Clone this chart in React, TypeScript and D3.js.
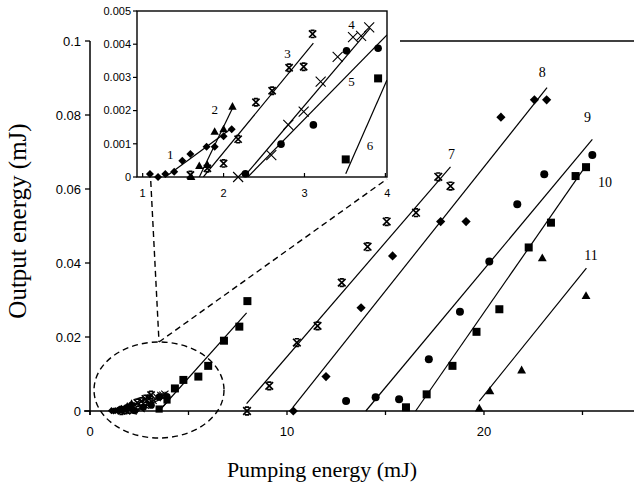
import React from "react";
import * as d3 from "d3";

// ---- Main chart tick values ----
const mainXTicks = [0, 5, 10, 15, 20, 25];
const mainXLabels = [0, 10, 20];
const mainYTicks = [0, 0.02, 0.04, 0.06, 0.08, 0.1];
const insetXTicks = [1, 2, 3, 4];
const insetYTicks = [0, 0.001, 0.002, 0.003, 0.004, 0.005];

// ---- Inset series (pumping mJ, output mJ) ----
const s1Diamonds = [[1.09, 0.00009], [1.19, 0], [1.28, 0.00009], [1.39, 0.00016], [1.49, 0.00049], [1.59, 0.00069], [1.79, 0.00091], [1.89, 0.00091], [2.0, 0.00123], [2.1, 0.00144]];
const s2Triangles = [[1.6, 0], [1.7, 0.00033], [1.8, 0.00036], [1.89, 0.00136], [2.0, 0.00144], [2.11, 0.00212]];
const s3Stars = [[1.59, 0.00006], [1.8, 0.00026], [2.0, 0.00041], [2.18, 0.00114], [2.4, 0.00225], [2.6, 0.0026], [2.81, 0.00329], [2.99, 0.00332], [3.1, 0.00431]];
const s4Crosses = [[2.18, 0], [2.59, 0.00066], [2.8, 0.00157], [2.99, 0.00197], [3.2, 0.00287], [3.41, 0.00362], [3.6, 0.00421], [3.7, 0.00425], [3.8, 0.00451]];
const s5Circles = [[2.27, 0.0001], [2.71, 0.00099], [3.11, 0.00157], [3.52, 0.0038], [3.91, 0.00388]];
const s6Squares = [[3.51, 0.00053], [3.91, 0.00297]];
const s6SquaresMain = [[4.31, 0.0061], [4.74, 0.0084], [5.5, 0.0093], [6.0, 0.0122], [6.8, 0.019], [7.58, 0.0228], [7.99, 0.0297]];

// ---- Main series ----
const s7Stars = [[7.97, 0], [9.1, 0.0068], [10.5, 0.0185], [11.55, 0.023], [12.78, 0.0347], [14.09, 0.0444], [15.06, 0.0512], [16.55, 0.0536], [17.68, 0.0633], [18.3, 0.0608]];
const s8Diamonds = [[10.32, 0], [11.98, 0.0093], [13.76, 0.0279], [15.36, 0.0419], [17.8, 0.0512], [19.09, 0.0512], [20.86, 0.0794], [22.56, 0.0841], [23.18, 0.0841]];
const s9Circles = [[13.0, 0.0027], [14.5, 0.0037], [15.69, 0.0032], [17.2, 0.014], [18.78, 0.0268], [20.27, 0.0404], [21.69, 0.0559], [23.06, 0.064], [25.5, 0.0692]];
const s10Squares = [[16.04, 0.001], [17.09, 0.0045], [18.4, 0.0122], [19.62, 0.0214], [20.78, 0.0275], [22.27, 0.0442], [23.4, 0.0509], [24.65, 0.0635], [25.18, 0.0659]];
const s11Triangles = [[19.76, 0.0007], [20.3, 0.0054], [21.91, 0.011], [22.96, 0.0413], [25.18, 0.0311]];

// ---- Fit lines [x0, y0, x1, y1] ----
const insetFits = [
  [1.28, 0, 2.1, 0.00147],
  [1.7, 0, 2.11, 0.00207],
  [1.75, 0, 3.11, 0.00403],
  [2.25, 0, 3.81, 0.00448],
  [2.3, 0, 4.02, 0.00428],
  [3.51, 0.0001, 4.02, 0.00292],
];
const mainFits = [
  [3.5, 0, 7.95, 0.0265],
  [7.95, 0.002, 18.3, 0.066],
  [10.3, 0.001, 23.2, 0.0874],
  [14.0, 0, 25.5, 0.0734],
  [16.53, 0, 25.2, 0.0665],
  [19.76, 0.0027, 25.2, 0.0386],
];

// ---- Line labels ----
const insetLabelText = ["1", "2", "3", "4", "5", "6"];
const insetLabelPos = [[1.34, 0.00069], [1.89, 0.00204], [2.79, 0.00373], [3.58, 0.00458], [3.58, 0.00287], [3.81, 0.00094]];
const mainLabelText = ["7", "8", "9", "10", "11"];
const mainLabelPos = [[18.35, 0.0694], [22.96, 0.0915], [25.25, 0.0794], [26.14, 0.062], [25.43, 0.0422]];

type Pt = number[];
type Kind = "diamond" | "triangle" | "star" | "cross" | "circle" | "square";

function Marker({ kind, cx, cy, s }: { kind: Kind; cx: number; cy: number; s: number }) {
  switch (kind) {
    case "diamond":
      return <path d={`M${cx},${cy - s}L${cx + s},${cy}L${cx},${cy + s}L${cx - s},${cy}Z`} fill="#000" />;
    case "triangle": {
      const h = s * 1.8;
      return <path d={`M${cx},${cy - h * 0.6}L${cx + s},${cy + h * 0.4}L${cx - s},${cy + h * 0.4}Z`} fill="#000" />;
    }
    case "circle":
      return <circle cx={cx} cy={cy} r={s} fill="#000" />;
    case "square":
      return <rect x={cx - s} y={cy - s} width={2 * s} height={2 * s} fill="#000" />;
    case "star":
      return (
        <path
          d={`M${cx - s},${cy - s}L${cx + s},${cy + s}M${cx + s},${cy - s}L${cx - s},${cy + s}M${cx - s * 0.55},${cy - s}L${cx + s * 0.55},${cy - s}M${cx - s * 0.55},${cy + s}L${cx + s * 0.55},${cy + s}`}
          stroke="#000"
          strokeWidth={1.7}
          fill="none"
        />
      );
    case "cross":
      return <path d={`M${cx - s},${cy - s}L${cx + s},${cy + s}M${cx + s},${cy - s}L${cx - s},${cy + s}`} stroke="#000" strokeWidth={1.1} fill="none" />;
  }
  return null;
}

export default function App() {
  const W = 634;
  const H = 488;
  const x = d3.scaleLinear().domain([0, 27.6]).range([90, 633.7]);
  const y = d3.scaleLinear().domain([0, 0.1]).range([411, 41]);
  const ix = d3.scaleLinear().domain([0.93, 4.02]).range([137, 387]);
  const iy = d3.scaleLinear().domain([0, 0.005]).range([177, 11]);

  const insetSeries: [Pt[], Kind, number][] = [
    [s1Diamonds, "diamond", 4],
    [s2Triangles, "triangle", 4.2],
    [s3Stars, "star", 3.6],
    [s4Crosses, "cross", 5],
    [s5Circles, "circle", 3.8],
    [s6Squares, "square", 4],
  ];
  const mainSeries: [Pt[], Kind, number][] = [
    [s6SquaresMain, "square", 4],
    [s7Stars, "star", 3.8],
    [s8Diamonds, "diamond", 4.6],
    [s9Circles, "circle", 4],
    [s10Squares, "square", 4],
    [s11Triangles, "triangle", 4.4],
  ];

  const serif = "'Liberation Serif', 'Times New Roman', serif";
  const sans = "'Liberation Sans', Arial, sans-serif";

  return (
    <svg width={W} height={H} style={{ position: "absolute", left: 0, top: 0, background: "#fff" }}>
      <defs>
        <clipPath id="insetClip">
          <rect x={137} y={11} width={250} height={166} />
        </clipPath>
      </defs>

      {/* Main axes */}
      <line x1={x(0)} x2={x(0)} y1={y(0) + 4} y2={y(0.1)} stroke="#000" strokeWidth={1.5} />
      <line x1={84} x2={634} y1={y(0)} y2={y(0)} stroke="#000" strokeWidth={1.5} />
      <line x1={400} x2={634} y1={y(0.1)} y2={y(0.1)} stroke="#000" strokeWidth={1.5} />
      {mainYTicks.map((t) => (
        <g key={"my" + t}>
          <line x1={x(0) - 5} x2={x(0)} y1={y(t)} y2={y(t)} stroke="#000" strokeWidth={1.3} />
          <text x={x(0) - 9} y={y(t)} dy="0.35em" textAnchor="end" fontFamily={sans} fontSize={13}>
            {String(t)}
          </text>
        </g>
      ))}
      {mainXTicks.map((t) => (
        <line key={"mx" + t} x1={x(t)} x2={x(t)} y1={y(0)} y2={y(0) + 4} stroke="#000" strokeWidth={1.3} />
      ))}
      {mainXLabels.map((t) => (
        <text key={"mxl" + t} x={x(t)} y={436} textAnchor="middle" fontFamily={sans} fontSize={13}>
          {String(t)}
        </text>
      ))}
      <text x={322} y={477} textAnchor="middle" fontFamily={serif} fontSize={22}>
        Pumping energy (mJ)
      </text>
      <text transform="translate(26,221) rotate(-90)" textAnchor="middle" fontFamily={serif} fontSize={25}>
        Output energy (mJ)
      </text>

      {/* Main fit lines */}
      {mainFits.map((f, i) => (
        <line key={"mf" + i} x1={x(f[0])} y1={y(f[1])} x2={x(f[2])} y2={y(f[3])} stroke="#000" strokeWidth={1.2} />
      ))}
      {insetFits.map((f, i) => (
        <line key={"mif" + i} x1={x(f[0])} y1={y(f[1])} x2={x(f[2])} y2={y(f[3])} stroke="#000" strokeWidth={1.2} />
      ))}
      {/* Inset data at main scale (cluster near origin) */}
      {insetSeries.map(([data, kind], si) =>
        data.map((p, j) => <Marker key={`mi${si}-${j}`} kind={kind} cx={x(p[0])} cy={y(p[1])} s={3.6} />)
      )}
      {mainSeries.map(([data, kind, s], si) =>
        data.map((p, j) => <Marker key={`m${si}-${j}`} kind={kind} cx={x(p[0])} cy={y(p[1])} s={s} />)
      )}
      {mainLabelText.map((t, i) => (
        <text key={"ml" + i} x={x(mainLabelPos[i][0])} y={y(mainLabelPos[i][1])} dy="0.35em" textAnchor="middle" fontFamily={serif} fontSize={14}>
          {t}
        </text>
      ))}

      {/* Zoom ellipse and dashed leaders */}
      <ellipse cx={159} cy={390} rx={65} ry={48} fill="none" stroke="#000" strokeWidth={1.4} strokeDasharray="6,4" />
      <line x1={ix(1.1)} y1={iy(0) + 4} x2={159} y2={342} stroke="#000" strokeWidth={1.4} strokeDasharray="6,4" />
      <line x1={159} y1={342} x2={ix(4.02)} y2={iy(0) + 2} stroke="#000" strokeWidth={1.4} strokeDasharray="6,4" />

      {/* Inset */}
      <rect x={137} y={11} width={250} height={166} fill="#fff" stroke="none" />
      <g clipPath="url(#insetClip)">
        {insetFits.map((f, i) => (
          <line key={"if" + i} x1={ix(f[0])} y1={iy(f[1])} x2={ix(f[2])} y2={iy(f[3])} stroke="#000" strokeWidth={1.2} />
        ))}
      </g>
      {insetSeries.map(([data, kind, s]) =>
        data.map((p, j) => <Marker key={`i${kind}-${j}`} kind={kind} cx={ix(p[0])} cy={iy(p[1])} s={s} />)
      )}
      <rect x={137} y={11} width={250} height={166} fill="none" stroke="#000" strokeWidth={1.4} />
      {insetYTicks.map((t) => (
        <g key={"iy" + t}>
          <line x1={133} x2={137} y1={iy(t)} y2={iy(t)} stroke="#000" strokeWidth={1.2} />
          <text x={131} y={iy(t)} dy="0.35em" textAnchor="end" fontFamily={sans} fontSize={11}>
            {String(t)}
          </text>
        </g>
      ))}
      {insetXTicks.map((t) => (
        <g key={"ix" + t}>
          <line x1={ix(t)} x2={ix(t)} y1={iy(0)} y2={iy(0) - 4} stroke="#000" strokeWidth={1.2} />
          <text x={ix(t) + (t === 4 ? 2 : 0)} y={197} textAnchor="middle" fontFamily={sans} fontSize={11}>
            {String(t)}
          </text>
        </g>
      ))}
      {insetLabelText.map((t, i) => (
        <text key={"il" + i} x={ix(insetLabelPos[i][0])} y={iy(insetLabelPos[i][1])} dy="0.35em" textAnchor="middle" fontFamily={serif} fontSize={13}>
          {t}
        </text>
      ))}
    </svg>
  );
}
